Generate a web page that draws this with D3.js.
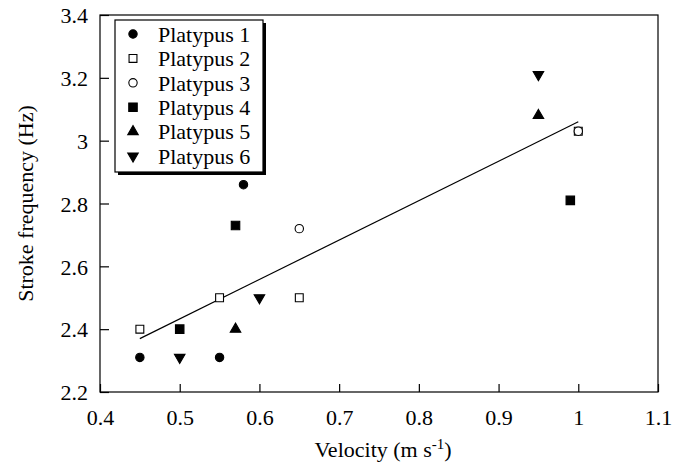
<!DOCTYPE html>
<html>
<head>
<meta charset="utf-8">
<script src="https://cdn.jsdelivr.net/npm/d3@7"></script>
<style>
  body { margin: 0; background: #fff; }
</style>
</head>
<body>
<div id="container"></div>
<script>
var width = 684,
	height = 467;

var margin = { top: 15, right: 26, bottom: 75, left: 100 };
var serif = 'Liberation Serif';

var xTicks = [0.4, 0.5, 0.6, 0.7, 0.8, 0.9, 1.0, 1.1],
	yTicks = [2.2, 2.4, 2.6, 2.8, 3.0, 3.2, 3.4];

var names = ['Platypus 1', 'Platypus 2', 'Platypus 3', 'Platypus 4', 'Platypus 5', 'Platypus 6'];

// velocity / stroke frequency per animal
var p1x = [0.45, 0.55, 0.58], p1y = [2.31, 2.31, 2.86];
var p2x = [0.45, 0.55, 0.65, 1.0], p2y = [2.40, 2.50, 2.50, 3.03];
var p3x = [0.65, 1.0], p3y = [2.72, 3.03];
var p4x = [0.50, 0.57, 0.99], p4y = [2.40, 2.73, 2.81];
var p5x = [0.57, 0.95], p5y = [2.40, 3.08];
var p6x = [0.50, 0.60, 0.95], p6y = [2.31, 2.50, 3.21];

// fitted line end points
var fitX = [0.45, 1.0], fitY = [2.37, 3.06];

var series = [
	{ name: names[0], xs: p1x, ys: p1y, shape: d3.symbolCircle, size: 55, fill: '#000' },
	{ name: names[1], xs: p2x, ys: p2y, shape: d3.symbolSquare, size: 62, fill: '#fff' },
	{ name: names[2], xs: p3x, ys: p3y, shape: d3.symbolCircle, size: 55, fill: '#fff' },
	{ name: names[3], xs: p4x, ys: p4y, shape: d3.symbolSquare, size: 72, fill: '#000' },
	{ name: names[4], xs: p5x, ys: p5y, shape: d3.symbolTriangle, size: 48, fill: '#000', rot: 0 },
	{ name: names[5], xs: p6x, ys: p6y, shape: d3.symbolTriangle, size: 48, fill: '#000', rot: 180 }
];

var w = width - margin.left - margin.right,
	h = height - margin.top - margin.bottom;

var xScale = d3.scaleLinear().domain([0.4, 1.1]).range([0, w]);
var yScale = d3.scaleLinear().domain([2.2, 3.4]).range([h, 0]);

var svg = d3.select('#container').append('svg')
	.attr('width', width)
	.attr('height', height)
	.attr('font-family', serif);

var g = svg.append('g')
	.attr('transform', 'translate(' + margin.left + ',' + margin.top + ')');

// frame
g.append('rect')
	.attr('x', 0).attr('y', 0)
	.attr('width', w).attr('height', h)
	.attr('fill', 'none')
	.attr('stroke', '#000')
	.attr('stroke-width', 1.2);

var fmt = function(d) { return d3.format('')(+d.toFixed(1)); };

var xAxis = g.append('g')
	.attr('transform', 'translate(0,' + h + ')')
	.call(d3.axisBottom(xScale).tickValues(xTicks).tickSizeInner(-8).tickSizeOuter(0).tickPadding(17).tickFormat(fmt));

var yAxis = g.append('g')
	.call(d3.axisLeft(yScale).tickValues(yTicks).tickSizeInner(-9).tickSizeOuter(0).tickPadding(12).tickFormat(fmt));

[xAxis, yAxis].forEach(function(a) {
	a.attr('font-family', serif).attr('font-size', 22);
	a.select('.domain').remove();
	a.selectAll('line').attr('stroke', '#000').attr('stroke-width', 1.2);
	a.selectAll('text').attr('fill', '#000').attr('font-family', serif);
});
xAxis.selectAll('text').attr('dy', '0.71em');
yAxis.selectAll('text').attr('dy', '0.35em');

// axis titles
var xt = svg.append('text')
	.attr('x', 383)
	.attr('y', 457)
	.attr('text-anchor', 'middle')
	.attr('font-family', serif)
	.attr('font-size', 22);
xt.append('tspan').text('Velocity (m s');
xt.append('tspan').attr('dy', -8).attr('font-size', 15).text('-1');
xt.append('tspan').attr('dy', 8).text(')');

svg.append('text')
	.attr('transform', 'translate(33,' + (margin.top + h / 2) + ') rotate(-90)')
	.attr('text-anchor', 'middle')
	.attr('font-family', serif)
	.attr('font-size', 22)
	.text('Stroke frequency (Hz)');

// fitted line
g.append('line')
	.attr('x1', xScale(fitX[0])).attr('y1', yScale(fitY[0]))
	.attr('x2', xScale(fitX[1])).attr('y2', yScale(fitY[1]))
	.attr('stroke', '#000')
	.attr('stroke-width', 1.2);

function symbolPath(s) {
	return d3.symbol().type(s.shape).size(s.size)();
}

// points
series.forEach(function(s) {
	var pts = s.xs.map(function(x, i) { return { x: x, y: s.ys[i] }; });
	g.selectAll(null)
		.data(pts)
		.enter()
			.append('path')
			.attr('d', symbolPath(s))
			.attr('transform', function(d) {
				return 'translate(' + xScale(d.x) + ',' + yScale(d.y) + ')' + (s.rot ? ' rotate(' + s.rot + ')' : '');
			})
			.attr('fill', s.fill)
			.attr('stroke', '#000')
			.attr('stroke-width', 1.1);
});

// legend
var lg = svg.append('g').attr('transform', 'translate(115,20)');
lg.append('rect')
	.attr('x', 3).attr('y', 3)
	.attr('width', 148).attr('height', 152)
	.attr('fill', '#000');
lg.append('rect')
	.attr('x', 0).attr('y', 0)
	.attr('width', 148).attr('height', 152)
	.attr('fill', '#fff')
	.attr('stroke', '#000')
	.attr('stroke-width', 1.2);

var rows = lg.selectAll('.row')
	.data(series)
	.enter()
		.append('g')
		.attr('class', 'row')
		.attr('transform', function(d, i) { return 'translate(0,' + (14 + i * 24.4) + ')'; });

rows.append('path')
	.attr('d', function(d) { return symbolPath(d); })
	.attr('transform', function(d) { return 'translate(18,0)' + (d.rot ? ' rotate(' + d.rot + ')' : ''); })
	.attr('fill', function(d) { return d.fill; })
	.attr('stroke', '#000')
	.attr('stroke-width', 1.1);

rows.append('text')
	.attr('x', 43)
	.attr('dy', '0.35em')
	.attr('font-family', serif)
	.attr('font-size', 22)
	.text(function(d) { return d.name; });
</script>
</body>
</html>
